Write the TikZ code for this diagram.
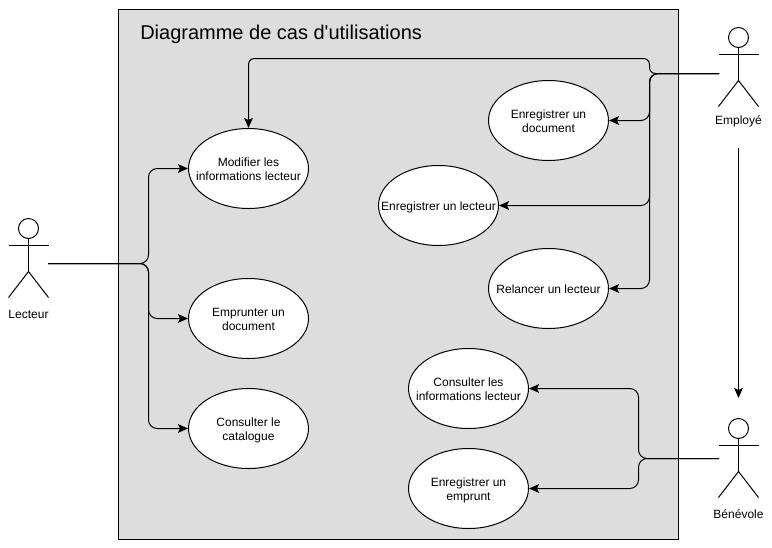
\documentclass[tikz,border=0pt]{standalone}
\usepackage{fontspec}
\setmainfont{Liberation Sans}
\usetikzlibrary{arrows.meta}
\usetikzlibrary{shapes.geometric}
\definecolor{frameGray}{HTML}{DDDDDD}
\tikzset{
    usecase/.style={draw, fill=white, ellipse, line width=0.75pt, minimum width=90pt, minimum height=60pt, inner sep=0pt, font=\fontsize{9}{10.5}\selectfont},
    actorname/.style={font=\fontsize{9}{10.5}\selectfont, inner sep=1pt},
    link/.style={line width=0.75pt, rounded corners=6.5pt, -{Stealth[length=7.5pt,width=6.5pt,inset=1.5pt]}}
}
% Text that does not stretch its ellipse
\newcommand{\casetext}[1]{\raisebox{-4pt}[0pt][0pt]{\makebox[0pt]{\begin{tabular}{@{}c@{}}#1\end{tabular}}}}
% Stick figure: name, x, head y, label, label y
\newcommand{\stickman}[5]{
    \node[draw, circle, line width=0.75pt, minimum size=15pt, inner sep=0pt] (#1head) at (#2, #3) {};
    \draw[line width=0.75pt] (#2-20, #3+17) -- (#2+20, #3+17);
    \draw[line width=0.75pt] (#1head.south) -- (#2, #3+43);
    \draw[line width=0.75pt] (#2-20, #3+69) -- (#2, #3+43) -- (#2+20, #3+69);
    \node[actorname] (#1) at (#2, #5) {#4};
}
\begin{document}
\begin{tikzpicture}[x=0.75pt, y=-0.75pt]
    \useasboundingbox (0, 0) rectangle (772, 547);

    % System frame
    \node[draw, fill=frameGray, line width=0.75pt, outer sep=0pt, minimum width=420pt, minimum height=397.5pt, inner sep=0pt, anchor=north west] (systemframe) at (118.5, 9.5) {};
    \node[anchor=west, inner sep=0pt, font=\fontsize{15}{18}\selectfont] (title) at (140, 34) {Diagramme de cas d\textquotesingle utilisations};

    % Actors
    \stickman{lecteur}{28.5}{228.5}{Lecteur}{314}
    \stickman{employe}{738.5}{37.5}{Employé}{121.5}
    \stickman{benevole}{738.5}{428.5}{Bénévole}{514}

    % Use cases
    \node[usecase] (modifier) at (248.5, 168.5) {\casetext{Modifier les\\informations lecteur}};
    \node[usecase] (emprunter) at (248.5, 318.5) {\casetext{Emprunter un\\document}};
    \node[usecase] (catalogue) at (248.5, 428.5) {\casetext{Consulter le\\catalogue}};
    \node[usecase] (document) at (548.5, 120.5) {\casetext{Enregistrer un\\document}};
    \node[usecase] (enreglecteur) at (438.5, 205.5) {\casetext{Enregistrer un lecteur}};
    \node[usecase] (relancer) at (548.5, 288.5) {\casetext{Relancer un lecteur}};
    \node[usecase] (infos) at (468.5, 388.5) {\casetext{Consulter les\\informations lecteur}};
    \node[usecase] (emprunt) at (468.5, 488.5) {\casetext{Enregistrer un\\emprunt}};

    % Free ends of the connectors
    \coordinate (lecteurOut) at (48, 263.5);
    \coordinate (employeOut) at (719, 73.5);
    \coordinate (benevoleOut) at (719, 458.5);
    \coordinate (employeDown) at (738.5, 148);
    \coordinate (benevoleUp) at (738.5, 398);

    % Lecteur
    \draw[link] (lecteurOut) -- (148.5, 263.5) -- (148.5, 168.5) -- (modifier.west);
    \draw[link] (lecteurOut) -- (148.5, 263.5) -- (148.5, 318.5) -- (emprunter.west);
    \draw[link] (lecteurOut) -- (148.5, 263.5) -- (148.5, 428.5) -- (catalogue.west);

    % Employe
    \draw[link, rounded corners=4.5pt] (employeOut) -- (649.5, 73.5) -- (649.5, 58.5) -- (248.5, 58.5) -- (modifier.north);
    \draw[link] (employeOut) -- (649.5, 73.5) -- (649.5, 120.5) -- (document.east);
    \draw[link] (employeOut) -- (649.5, 73.5) -- (649.5, 205.5) -- (enreglecteur.east);
    \draw[link] (employeOut) -- (649.5, 73.5) -- (649.5, 288.5) -- (relancer.east);

    % Benevole
    \draw[link] (benevoleOut) -- (638.5, 458.5) -- (638.5, 388.5) -- (infos.east);
    \draw[link] (benevoleOut) -- (638.5, 458.5) -- (638.5, 488.5) -- (emprunt.east);

    % Generalisation
    \draw[link] (employeDown) -- (benevoleUp);
\end{tikzpicture}
\end{document}
